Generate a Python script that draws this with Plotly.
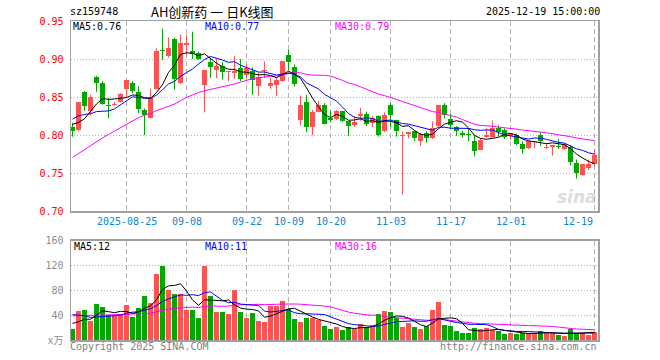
import numpy as np
import pandas as pd
import plotly.graph_objects as go

# ---------------- data ----------------
holiday = (pd.Timestamp('2025-10-01'), pd.Timestamp('2025-10-08'))
dates = [d for d in pd.bdate_range('2025-08-12', '2025-12-19')
         if not (holiday[0] <= d <= holiday[1])]

open_ = [0.811, 0.807, 0.857, 0.832, 0.877, 0.868, 0.839, 0.839, 0.844, 0.861,
         0.869, 0.857, 0.833, 0.823, 0.861, 0.911, 0.904, 0.927, 0.868, 0.918,
         0.910, 0.908, 0.866, 0.896, 0.885, 0.891, 0.883, 0.882, 0.888, 0.879,
         0.884, 0.865, 0.884, 0.865, 0.866, 0.871, 0.905, 0.890, 0.820, 0.843,
         0.811, 0.830, 0.840, 0.822, 0.821, 0.832, 0.819, 0.814, 0.825, 0.828,
         0.816, 0.825, 0.805, 0.840, 0.820, 0.7995, 0.801, 0.806, 0.792, 0.803,
         0.796, 0.812, 0.839, 0.821, 0.811, 0.803, 0.801, 0.792, 0.781, 0.797,
         0.798, 0.810, 0.807, 0.7995, 0.800, 0.789, 0.783, 0.7915, 0.800, 0.783,
         0.785, 0.7855, 0.782, 0.785, 0.763, 0.748, 0.757, 0.762]
high = [0.816, 0.844, 0.858, 0.853, 0.878, 0.871, 0.849, 0.844, 0.855, 0.873,
        0.871, 0.864, 0.835, 0.861, 0.914, 0.940, 0.928, 0.928, 0.932, 0.932,
        0.936, 0.910, 0.885, 0.902, 0.900, 0.896, 0.884, 0.904, 0.900, 0.893,
        0.889, 0.882, 0.897, 0.875, 0.875, 0.897, 0.912, 0.893, 0.852, 0.853,
        0.833, 0.845, 0.842, 0.832, 0.833, 0.832, 0.819, 0.825, 0.836, 0.831,
        0.825, 0.826, 0.830, 0.842, 0.820, 0.805, 0.804, 0.806, 0.803, 0.805,
        0.818, 0.839, 0.842, 0.828, 0.812, 0.806, 0.809, 0.800, 0.796, 0.809,
        0.819, 0.813, 0.809, 0.801, 0.802, 0.792, 0.793, 0.7925, 0.804, 0.788,
        0.787, 0.795, 0.789, 0.787, 0.768, 0.762, 0.768, 0.782]
low = [0.798, 0.805, 0.832, 0.826, 0.857, 0.840, 0.822, 0.838, 0.843, 0.850,
       0.855, 0.829, 0.800, 0.822, 0.860, 0.899, 0.902, 0.860, 0.867, 0.905,
       0.900, 0.899, 0.830, 0.875, 0.875, 0.873, 0.871, 0.874, 0.871, 0.875,
       0.853, 0.852, 0.875, 0.861, 0.851, 0.870, 0.886, 0.864, 0.813, 0.804,
       0.800, 0.830, 0.814, 0.817, 0.820, 0.817, 0.799, 0.811, 0.819, 0.812,
       0.811, 0.798, 0.804, 0.811, 0.798, 0.722, 0.796, 0.792, 0.786, 0.790,
       0.795, 0.811, 0.822, 0.808, 0.799, 0.797, 0.792, 0.772, 0.781, 0.796,
       0.797, 0.798, 0.795, 0.794, 0.787, 0.776, 0.782, 0.783, 0.786, 0.782,
       0.773, 0.782, 0.781, 0.760, 0.743, 0.747, 0.754, 0.759]
close = [0.806, 0.843, 0.838, 0.850, 0.868, 0.841, 0.838, 0.841, 0.854, 0.873,
         0.858, 0.835, 0.826, 0.850, 0.911, 0.910, 0.915, 0.874, 0.921, 0.921,
         0.907, 0.900, 0.885, 0.890, 0.891, 0.883, 0.884, 0.884, 0.874, 0.888,
         0.873, 0.877, 0.886, 0.868, 0.873, 0.897, 0.896, 0.867, 0.840, 0.811,
         0.830, 0.839, 0.815, 0.820, 0.832, 0.819, 0.812, 0.817, 0.828, 0.815,
         0.823, 0.800, 0.827, 0.826, 0.805, 0.800, 0.804, 0.796, 0.802, 0.796,
         0.809, 0.839, 0.827, 0.814, 0.806, 0.800, 0.800, 0.779, 0.794, 0.800,
         0.809, 0.804, 0.798, 0.801, 0.789, 0.782, 0.793, 0.7925, 0.792, 0.785,
         0.787, 0.785, 0.789, 0.765, 0.750, 0.762, 0.762, 0.774]
# estimated closes of the 29 sessions before the window (needed for the MA lines)
prior_close = [0.69, 0.68, 0.69, 0.70, 0.71, 0.70, 0.71, 0.72, 0.73, 0.72,
               0.72, 0.73, 0.78, 0.80, 0.82, 0.82, 0.80, 0.79, 0.79, 0.81,
               0.80, 0.82, 0.84, 0.84, 0.84, 0.83, 0.815, 0.80, 0.82]
volume = [17.6, 46.4, 48, 30.4, 57.6, 52.8, 39.5, 40, 41, 56,
          37.3, 51.2, 70.4, 59.7, 106, 120, 80, 73.6, 73.6, 48,
          48, 35.7, 119, 70.4, 45.3, 45.3, 42, 80, 45.3, 35.7,
          43.2, 30, 29.3, 54.4, 54.4, 62.4, 50.7, 33.6, 29.3, 35.7,
          35.7, 32, 22.4, 17.6, 20.8, 16, 20.3, 17.6, 25, 21.3,
          24, 41.6, 47, 45.3, 36, 20.8, 27.2, 20.8, 18, 22,
          48, 62, 24, 22.5, 15, 10.5, 10.5, 19, 17.5, 19,
          16, 15, 10, 10.5, 10, 10.5, 10.5, 12, 14, 11,
          10.5, 8, 7, 17.5, 11, 11.5, 8.5, 12.5]
prior_volume = [30, 45, 35, 40, 50, 32, 38, 42, 36, 30,
                40, 44, 35, 38, 36, 40, 42, 35, 38, 34,
                60, 52, 58, 50, 56, 33, 28, 30, 25]

date_tick_labels = ['2025-08-25', '09-08', '09-22', '10-09', '10-20',
                    '11-03', '11-17', '12-01', '12-19']
date_tick_dates = ['2025-08-25', '2025-09-08', '2025-09-22', '2025-10-09',
                   '2025-10-20', '2025-11-03', '2025-11-17', '2025-12-01',
                   '2025-12-19']
price_ticks = [0.70, 0.75, 0.80, 0.85, 0.90, 0.95]
price_tick_text = ['0.70', '0.75', '0.80', '0.85', '0.90', '0.95']
vol_ticks = [0, 40, 80, 120, 160]
vol_tick_text = ['x万', '40', '80', '120', '160']

code = 'sz159748'
title = 'AH创新药 一 日K线图'
stamp = '2025-12-19 15:00:00'
price_ma_text = ['MA5:0.76', 'MA10:0.77', 'MA30:0.79']
vol_ma_text = ['MA5:12', 'MA10:11', 'MA30:16']

# ---------------- derived ----------------
n = len(close)
idx = np.arange(n)
O = np.array(open_); Hh = np.array(high); L = np.array(low); C = np.array(close)
up = C >= O
RED, GREEN = '#ff5252', '#00a800'
colors = [RED if u else GREEN for u in up]

full_close = pd.Series(prior_close + close)
ma = {w: full_close.rolling(w).mean().to_numpy()[-n:] for w in (5, 10, 30)}
full_vol = pd.Series(prior_volume + volume)
vma = {w: full_vol.rolling(w).mean().to_numpy()[-n:] for w in (5, 10, 30)}

body_base = np.minimum(O, C)
body_h = np.maximum(np.abs(C - O), 0.0013)

pos = {d.strftime('%Y-%m-%d'): i for i, d in enumerate(dates)}
tick_idx = [pos[d] for d in date_tick_dates]

# ---------------- figure ----------------
W, H = 660, 360
ML, MR, MT, MB = 71, 62, 21, 20
PW, PH = W - ML - MR, H - MT - MB
def px_x(x):
    return (x - ML) / PW
def px_y(y):
    return (H - MB - y) / PH

fig = go.Figure()

def wick_trace(mask, color):
    xs, ys = [], []
    for i in idx[mask]:
        xs += [i, i, None]
        ys += [L[i], Hh[i], None]
    return go.Scatter(x=xs, y=ys, mode='lines', line=dict(color=color, width=1),
                      hoverinfo='skip', showlegend=False, xaxis='x', yaxis='y')

fig.add_trace(go.Bar(x=idx, y=body_h, base=body_base, width=5/6,
                     marker=dict(color=colors, line=dict(width=0)),
                     showlegend=False, xaxis='x', yaxis='y'))
fig.add_trace(wick_trace(up, RED))
fig.add_trace(wick_trace(~up, GREEN))
for w, col in ((30, '#ff00ff'), (10, '#0000ff'), (5, '#000000')):
    fig.add_trace(go.Scatter(x=idx, y=ma[w], mode='lines', line=dict(color=col, width=1),
                             showlegend=False, xaxis='x', yaxis='y'))

fig.add_trace(go.Bar(x=idx, y=volume, width=5/6,
                     marker=dict(color=colors, line=dict(width=0)),
                     showlegend=False, xaxis='x2', yaxis='y2'))
for w, col in ((30, '#ff00ff'), (10, '#0000ff'), (5, '#000000')):
    fig.add_trace(go.Scatter(x=idx, y=vma[w], mode='lines', line=dict(color=col, width=1),
                             showlegend=False, xaxis='x2', yaxis='y2'))

FONT = 'DejaVu Sans Mono, Noto Sans CJK SC, monospace'
GRID = '#b4b4b4'
FRAME = '#a0a0a0'
price_bottom = px_y(211.3)
vol_top = px_y(240.7)
xr = [-0.25, -0.25 + PW / 6]

axis_x = dict(range=xr, tickvals=tick_idx, showticklabels=False, ticks='',
              showgrid=True, gridcolor=GRID, griddash='5px,3px', gridwidth=1,
              showline=True, mirror=True, linecolor=FRAME, linewidth=1.5,
              zeroline=False, fixedrange=True)
fig.update_layout(
    width=W, height=H, margin=dict(l=ML, r=MR, t=MT, b=MB, pad=0),
    paper_bgcolor='white', plot_bgcolor='white', showlegend=False,
    bargap=0, font=dict(family=FONT, size=10, color='#000'),
    xaxis=dict(axis_x, domain=[0, 1], anchor='y'),
    xaxis2=dict(axis_x, domain=[0, 1], anchor='y2', matches='x'),
    yaxis=dict(domain=[price_bottom, 1], range=[0.70, 0.95], tickvals=price_ticks,
               ticktext=price_tick_text, tickfont=dict(color='#ff0000', size=10, family=FONT),
               showgrid=True, gridcolor=GRID, griddash='1px,2px', gridwidth=1,
               showline=True, mirror=True, linecolor=FRAME, linewidth=1.5,
               zeroline=False, ticks='', ticklabelstandoff=4, fixedrange=True),
    yaxis2=dict(domain=[0, vol_top], range=[0, 160], tickvals=vol_ticks,
                ticktext=vol_tick_text, tickfont=dict(color='#8c8c8c', size=10, family=FONT),
                showgrid=True, gridcolor=GRID, griddash='1px,2px', gridwidth=1,
                showline=True, mirror=True, linecolor=FRAME, linewidth=1.5,
                zeroline=False, ticks='', ticklabelstandoff=4, fixedrange=True),
)

ann = []
def text(s, x, y, color='#000', anchor='left', size=10, family=FONT, **kw):
    ann.append(dict(text=s, x=px_x(x), y=px_y(y), xref='paper', yref='paper',
                    xanchor=anchor, yanchor='middle', showarrow=False, borderpad=0,
                    font=dict(color=color, size=size, family=family), **kw))

text(code, 69, 12)
text(title, 150, 11.5, size=13, family='Noto Sans CJK SC, DejaVu Sans Mono')
text(stamp, 601, 12)
ann[-1]['xanchor'] = 'right'
text(price_ma_text[0], 72, 27)
text(price_ma_text[1], 204, 27, color='#0000ff')
text(price_ma_text[2], 334, 27, color='#ff00ff')
text(vol_ma_text[0], 73, 247)
text(vol_ma_text[1], 204, 247, color='#0000ff')
text(vol_ma_text[2], 334, 247, color='#ff00ff')
text('Copyright 2025 SINA.COM', 69, 346.5, color='#808080')
text('http://finance.sina.com.cn', 598, 346.5, color='#808080', anchor='right')
text('<b><i>sina</i></b>', 598, 197, color='rgba(190,190,190,0.55)', anchor='right',
     size=17, family='DejaVu Sans')

for lab, i in zip(date_tick_labels, tick_idx):
    last = (i == tick_idx[-1])
    ann.append(dict(text=lab, x=i, xref='x', y=px_y(221.5), yref='paper',
                    xanchor='right' if last else 'center', yanchor='middle',
                    xshift=-1 if last else 0, showarrow=False, borderpad=0,
                    font=dict(color='#0c86d0', size=10, family=FONT)))
fig.update_layout(annotations=ann)

fig.write_html('out.html', config={'displayModeBar': False, 'staticPlot': True},
               post_script="document.body.style.margin='0';document.body.style.padding='0';")
